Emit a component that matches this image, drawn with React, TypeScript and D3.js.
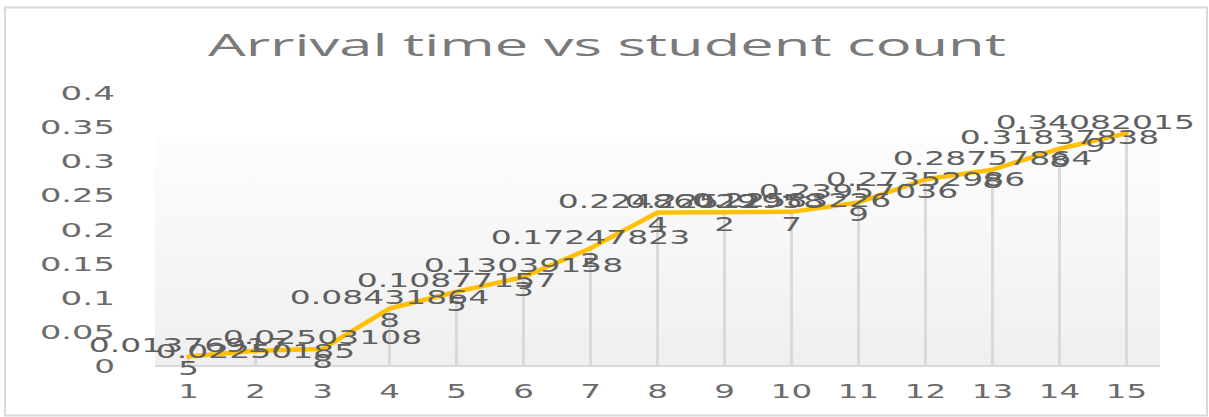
import React from "react";
import * as d3 from "d3";

const categories: string[] = ["1", "2", "3", "4", "5", "6", "7", "8", "9", "10", "11", "12", "13", "14", "15"];
const values: number[] = [
  0.013769175, 0.02250185, 0.025031088, 0.084318648, 0.108771575, 0.130391583, 0.172478232,
  0.224860294, 0.225129582, 0.225832267, 0.239570369, 0.27352986, 0.287578648, 0.318378388, 0.340820159,
];
const yTicks: number[] = [0, 0.05, 0.1, 0.15, 0.2, 0.25, 0.3, 0.35, 0.4];
const title = "Arrival time vs student count";

const W = 1209;
const H = 417;
const NUM_FONT = "'DejaVu Sans', Verdana, sans-serif";
const TEXT_COLOR = "#6b6b6b";

function numWidth(s: string): number {
  let w = 0;
  for (const c of s) w += c === "." ? 13 : 20.7;
  return w;
}

export default function App() {
  const x = d3.scaleBand<string>().domain(categories).range([155, 1160]).padding(0);
  const y = d3.scaleLinear().domain([0, 0.4]).range([366, 93]);
  const cx = (i: number) => (x(categories[i]) as number) + x.bandwidth() / 2;

  const line = d3
    .line<number>()
    .x((_, i) => cx(i))
    .y((d) => y(d))
    .curve(d3.curveLinear);

  const labelRight = 1195;

  return (
    <svg width={W} height={H} style={{ position: "absolute", left: 0, top: 0, background: "#fff" }}>
      <defs>
        <linearGradient id="plotbg" x1="0" y1="0" x2="0" y2="1">
          <stop offset="0" stopColor="#fdfdfd" />
          <stop offset="1" stopColor="#efefef" />
        </linearGradient>
      </defs>
      <rect x={5} y={7.5} width={1202} height={408} fill="#fff" stroke="#d9d9d9" strokeWidth={2} />
      <text
        x={607}
        y={56}
        textAnchor="middle"
        fontFamily="'Open Sans', 'Noto Sans', sans-serif"
        fontSize={31}
        fill="#7a7a7a"
        textLength={798}
        lengthAdjust="spacingAndGlyphs"
      >
        {title}
      </text>
      <rect x={155} y={137} width={1005} height={229} fill="url(#plotbg)" />
      {/* y tick labels */}
      {yTicks.map((t) => {
        const s = String(t);
        return (
          <text
            key={"yt" + s}
            x={115}
            y={y(t)}
            textAnchor="end"
            dominantBaseline="central"
            fontFamily={NUM_FONT}
            fontSize={19}
            fill={TEXT_COLOR}
            textLength={numWidth(s)}
            lengthAdjust="spacingAndGlyphs"
          >
            {s}
          </text>
        );
      })}
      {/* x tick labels */}
      {categories.map((c, i) => (
        <text
          key={"xt" + c}
          x={cx(i)}
          y={391}
          textAnchor="middle"
          dominantBaseline="central"
          fontFamily={NUM_FONT}
          fontSize={19}
          fill={TEXT_COLOR}
          textLength={numWidth(c)}
          lengthAdjust="spacingAndGlyphs"
        >
          {c}
        </text>
      ))}
      {/* drop lines */}
      {values.map((v, i) => (
        <line key={"dl" + i} x1={cx(i)} x2={cx(i)} y1={y(v)} y2={y(0)} stroke="#dadada" strokeWidth={3} />
      ))}
      {/* axis line */}
      <line x1={155} x2={1160} y1={y(0)} y2={y(0)} stroke="#d9d9d9" strokeWidth={2} />
      {/* series line */}
      <path
        d={line(values) || ""}
        fill="none"
        stroke="#FFC000"
        strokeWidth={4.5}
        strokeLinejoin="round"
        strokeLinecap="round"
      />
      {/* data labels */}
      {values.map((v, i) => {
        const full = String(v);
        const lines = full.length > 10 ? [full.slice(0, 10), full.slice(10)] : [full];
        const w0 = numWidth(lines[0]);
        let centerX = cx(i);
        if (centerX + w0 / 2 > labelRight) centerX = labelRight - w0 / 2;
        const lh = 23.5;
        const startY = y(v) - ((lines.length - 1) * lh) / 2;
        return (
          <g key={"lbl" + i}>
            {lines.map((ln, k) => (
              <text
                key={k}
                x={centerX}
                y={startY + k * lh}
                textAnchor="middle"
                dominantBaseline="central"
                fontFamily={NUM_FONT}
                fontSize={19}
                fill="#5f5f5f"
                textLength={numWidth(ln)}
                lengthAdjust="spacingAndGlyphs"
              >
                {ln}
              </text>
            ))}
          </g>
        );
      })}
    </svg>
  );
}
